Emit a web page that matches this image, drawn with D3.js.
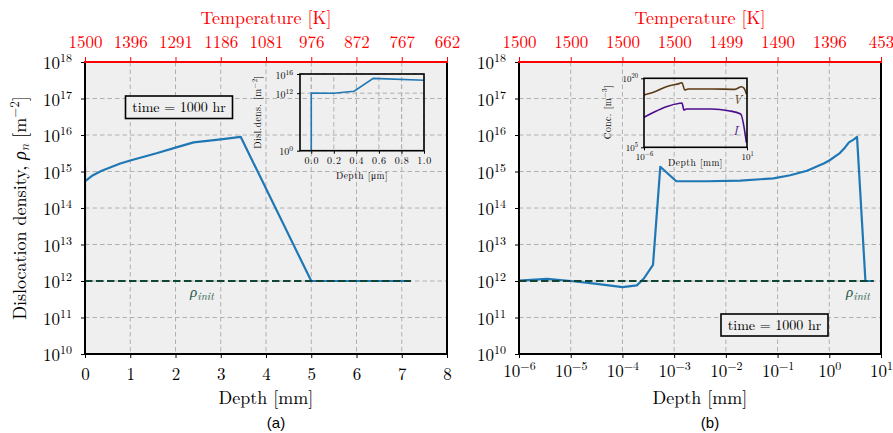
<!DOCTYPE html>
<html>
<head>
<meta charset="utf-8">
<script src="https://cdn.jsdelivr.net/npm/d3@7"></script>
<style>
body { margin: 0; background: #fff; }
svg { display: block; }
</style>
</head>
<body>
<script>
// fonts, closest thing to the LaTeX look we have
var serif = "'Latin Modern Roman','CMU Serif','Liberation Serif','Times New Roman',serif",
    sans = "'Liberation Sans',Arial,sans-serif";

// dislocation density profile (same run in both panels)
var depthMm = [1e-6, 3.5e-6, 1e-5, 3.2e-5, 1e-4, 1.9e-4, 2.6e-4, 3.9e-4, 5.4e-4, 1.1e-3,
               4.3e-3, 0.019, 0.083, 0.176, 0.37, 0.78, 1.0, 1.6, 2.0, 2.4, 3.0, 3.44, 5.0, 7.2];
var rhoDisl = [1.02e12, 1.15e12, 1.0e12, 8.3e11, 6.8e11, 7.6e11, 1.17e12, 2.75e12, 1.35e15, 5.4e14,
               5.4e14, 5.6e14, 6.5e14, 7.9e14, 1.05e15, 1.65e15, 2.0e15, 3.2e15, 4.5e15, 6.3e15, 7.6e15, 8.9e15, 1.0e12, 1.0e12];
var rhoInit = 1e12,
    initStartLin = 0, initStartLog = 1e-6, initEnd = 7.2;

// ticks
var linDepthTicks = [0, 1, 2, 3, 4, 5, 6, 7, 8];
var linTempLabels = ['1500', '1396', '1291', '1186', '1081', '976', '872', '767', '662'];
var logDepthTicks = [1e-6, 1e-5, 1e-4, 1e-3, 1e-2, 1e-1, 1e0, 1e1];
var logDepthExp = ['\u22126', '\u22125', '\u22124', '\u22123', '\u22122', '\u22121', '0', '1'];
var logTempLabels = ['1500', '1500', '1500', '1500', '1499', '1490', '1396', '453'];
var rhoTicks = [1e10, 1e11, 1e12, 1e13, 1e14, 1e15, 1e16, 1e17, 1e18];
var rhoExp = ['10', '11', '12', '13', '14', '15', '16', '17', '18'];

// inset (a): near-surface profile in micrometres
var insetDepthUm = [0, 0, 0.2, 0.38, 0.55, 1.0];
var insetRho = [1, 1.1e12, 0.95e12, 2.5e12, 1.25e15, 5e14];
var insetXTicks = [0, 0.2, 0.4, 0.6, 0.8, 1.0];
var insetYTicks = [1, 1e12, 1e16];
var insetYExp = ['0', '12', '16'];

// inset (b): vacancy / interstitial concentrations
var vDepthMm = [1e-6, 5.4e-6, 3.3e-5, 2.7e-4, 3.8e-4, 5.9e-4, 1e-3, 0.038, 1.5, 4.2, 6.3, 9.1];
var vConc = [2.3e16, 1.2e17, 1.5e18, 7.9e18, 1.1e19, 2.9e17, 4.7e17, 4.7e17, 4.0e17, 1.5e18, 6.8e17, 4.0e16];
var iDepthMm = [1e-6, 5.4e-6, 3.3e-5, 2.7e-4, 3.8e-4, 5.2e-4, 7.6e-4, 0.038, 0.55, 3.7, 9.1];
var iConc = [3.3e11, 5.5e12, 6.8e13, 3.7e14, 4.3e14, 1.26e13, 2.1e13, 2.1e13, 9.1e12, 1.7e12, 1e6];

var svg = d3.select('body').append('svg')
    .attr('width', 893)
    .attr('height', 433)
    .style('font-family', serif);

var yTop = 62, yBot = 354;
var y = d3.scaleLog().domain([1e10, 1e18]).range([yBot, yTop]);

// "10" with a raised exponent
function pow10(text, exp, size, supSize, rise) {
    text.text(null).attr('font-size', size);
    text.append('tspan').text('10');
    text.append('tspan').attr('dy', -rise).attr('font-size', supSize).text(exp);
}

function zip(a, b) {
    return a.map(function (v, i) { return [v, b[i]]; });
}

var blue = '#1f77b4', green = '#0f4436';

function panel(x, xTicks, tempLabels, isLog, clipId) {
    var x0 = x.range()[0], x1 = x.range()[1];
    var g = svg.append('g');

    g.append('rect')
        .attr('x', x0).attr('y', yTop)
        .attr('width', x1 - x0).attr('height', yBot - yTop)
        .attr('fill', '#efefef');

    // grid
    g.selectAll('.gx').data(xTicks).enter().append('line')
        .attr('x1', function (d) { return x(d); })
        .attr('x2', function (d) { return x(d); })
        .attr('y1', yTop).attr('y2', yBot)
        .attr('stroke', '#b0b0b0').attr('stroke-width', 1).attr('stroke-dasharray', '4.5,3');
    g.selectAll('.gy').data(rhoTicks).enter().append('line')
        .attr('x1', x0).attr('x2', x1)
        .attr('y1', function (d) { return y(d); })
        .attr('y2', function (d) { return y(d); })
        .attr('stroke', '#b0b0b0').attr('stroke-width', 1).attr('stroke-dasharray', '4.5,3');

    g.append('clipPath').attr('id', clipId)
        .append('rect').attr('x', x0).attr('y', yTop).attr('width', x1 - x0).attr('height', yBot - yTop);

    var line = d3.line()
        .x(function (d) { return x(d[0]); })
        .y(function (d) { return y(d[1]); });

    g.append('path')
        .datum(zip(depthMm, rhoDisl))
        .attr('clip-path', 'url(#' + clipId + ')')
        .attr('d', line)
        .attr('fill', 'none').attr('stroke', blue).attr('stroke-width', 2.2)
        .attr('stroke-linejoin', 'round');

    g.append('path')
        .datum([[isLog ? initStartLog : initStartLin, rhoInit], [initEnd, rhoInit]])
        .attr('d', line)
        .attr('fill', 'none').attr('stroke', green).attr('stroke-width', 2.2)
        .attr('stroke-dasharray', '7.5,3.5');

    // bottom axis
    var bx = g.append('g')
        .attr('transform', 'translate(0,' + yBot + ')')
        .call(d3.axisBottom(x).tickValues(xTicks).tickSizeOuter(0).tickSize(4)
            .tickPadding(isLog ? 7 : 10).tickFormat(function (d) { return d; }));
    bx.select('.domain').remove();
    bx.selectAll('.tick line').attr('stroke', '#000');
    bx.selectAll('.tick text')
        .attr('fill', '#000')
        .attr('font-family', serif)
        .attr('font-size', 17)
        .each(function (d, i) {
            if (isLog) pow10(d3.select(this), logDepthExp[i], 17, 12, 7);
        });

    // left axis
    var lx = g.append('g')
        .attr('transform', 'translate(' + x0 + ',0)')
        .call(d3.axisLeft(y).tickValues(rhoTicks).tickSizeOuter(0).tickSize(4).tickPadding(9));
    lx.select('.domain').remove();
    lx.selectAll('.tick line').attr('stroke', '#000');
    lx.selectAll('.tick text')
        .attr('fill', '#000')
        .attr('font-family', serif)
        .attr('dy', '0.4em')
        .each(function (d, i) { pow10(d3.select(this), rhoExp[i], 17, 12, 7); });

    // top temperature axis
    var tx = g.append('g')
        .attr('transform', 'translate(0,' + yTop + ')')
        .call(d3.axisTop(x).tickValues(xTicks).tickSizeOuter(0).tickSize(5).tickPadding(9)
            .tickFormat(function (d, i) { return tempLabels[i]; }));
    tx.select('.domain').remove();
    tx.selectAll('.tick line').attr('stroke', 'red');
    tx.selectAll('.tick text')
        .attr('fill', 'red')
        .attr('font-family', serif)
        .attr('font-size', 17);

    // spines
    g.append('line').attr('x1', x0).attr('x2', x0).attr('y1', yTop).attr('y2', yBot)
        .attr('stroke', '#000').attr('stroke-width', 2);
    g.append('line').attr('x1', x1).attr('x2', x1).attr('y1', yTop).attr('y2', yBot)
        .attr('stroke', '#000').attr('stroke-width', 2);
    g.append('line').attr('x1', x0 - 1).attr('x2', x1 + 1).attr('y1', yBot).attr('y2', yBot)
        .attr('stroke', '#000').attr('stroke-width', 2);
    g.append('line').attr('x1', x0 - 1).attr('x2', x1 + 1).attr('y1', yTop).attr('y2', yTop)
        .attr('stroke', 'red').attr('stroke-width', 2);

    var cx = (x0 + x1) / 2;
    g.append('text')
        .attr('x', cx).attr('y', 24)
        .attr('text-anchor', 'middle').attr('font-size', 18).attr('fill', 'red')
        .text('Temperature [K]');
    g.append('text')
        .attr('x', cx).attr('y', 404)
        .attr('text-anchor', 'middle').attr('font-size', 18)
        .text('Depth [mm]');
    g.append('text')
        .attr('x', cx + 10).attr('y', 428)
        .attr('text-anchor', 'middle').attr('font-size', 15).attr('font-family', sans)
        .text(isLog ? '(b)' : '(a)');

    return g;
}

function timeBox(g, bx, by, bw, bh) {
    g.append('rect')
        .attr('x', bx).attr('y', by).attr('width', bw).attr('height', bh)
        .attr('fill', '#efefef').attr('stroke', '#000').attr('stroke-width', 1.6);
    g.append('text')
        .attr('x', bx + bw / 2).attr('y', by + bh / 2 + 5)
        .attr('text-anchor', 'middle').attr('font-size', 14)
        .text('time = 1000 hr');
}

function initLabel(g, cx, by) {
    var t = g.append('text')
        .attr('x', cx).attr('y', by)
        .attr('text-anchor', 'middle').attr('fill', '#1d5a47')
        .attr('font-style', 'italic').attr('font-size', 15);
    t.append('tspan').text('\u03c1');
    t.append('tspan').attr('dy', 3).attr('font-size', 11).text('init');
}

// panel (a)
var xLin = d3.scaleLinear().domain([0, 8]).range([85, 447]);
var ga = panel(xLin, linDepthTicks, linTempLabels, false, 'clipA');
timeBox(ga, 125.5, 96, 107, 22.5);
initLabel(ga, 202, 297);

// panel (b)
var xLog = d3.scaleLog().domain([1e-6, 10]).range([519, 881]);
var gb = panel(xLog, logDepthTicks, logTempLabels, true, 'clipB');
timeBox(gb, 721, 314, 107, 22);
initLabel(gb, 858, 297);

// y label
var yl = svg.append('text')
    .attr('transform', 'translate(26,208) rotate(-90)')
    .attr('text-anchor', 'middle').attr('font-size', 18);
yl.append('tspan').text('Dislocation density, ');
yl.append('tspan').attr('font-style', 'italic').text('\u03c1');
yl.append('tspan').attr('font-style', 'italic').attr('font-size', 13).attr('dy', 3).text('n');
yl.append('tspan').attr('dy', -3).text(' [m');
yl.append('tspan').attr('font-size', 13).attr('dy', -7).text('\u22122');
yl.append('tspan').attr('dy', 7).text(']');

// ---- inset (a)
var xIn = d3.scaleLinear().domain([-0.1, 1.0]).range([300, 424]),
    yIn = d3.scaleLog().domain([1, 1e16]).range([150.7, 74]);
var gi = svg.append('g');
gi.selectAll('.gx').data(insetXTicks).enter().append('line')
    .attr('x1', function (d) { return xIn(d); })
    .attr('x2', function (d) { return xIn(d); })
    .attr('y1', 74).attr('y2', 150.7)
    .attr('stroke', '#b0b0b0').attr('stroke-dasharray', '4.5,3').attr('stroke-dashoffset', 12);
gi.selectAll('.gy').data(insetYTicks).enter().append('line')
    .attr('x1', 300).attr('x2', 424)
    .attr('y1', function (d) { return yIn(d); })
    .attr('y2', function (d) { return yIn(d); })
    .attr('stroke', '#b0b0b0').attr('stroke-dasharray', '4.5,3');
gi.append('path')
    .datum(zip(insetDepthUm, insetRho))
    .attr('d', d3.line().x(function (d) { return xIn(d[0]); }).y(function (d) { return yIn(d[1]); }))
    .attr('fill', 'none').attr('stroke', blue).attr('stroke-width', 1.6);
var ib = gi.append('g').attr('transform', 'translate(0,150.7)')
    .call(d3.axisBottom(xIn).tickValues(insetXTicks).tickSizeOuter(0).tickSize(3).tickPadding(3)
        .tickFormat(d3.format('.1f')));
ib.select('.domain').remove();
ib.selectAll('.tick line').attr('stroke', '#000');
ib.selectAll('.tick text').attr('fill', '#000').attr('font-family', serif)
    .attr('font-size', 10).attr('letter-spacing', 0.6);
var il = gi.append('g').attr('transform', 'translate(300,0)')
    .call(d3.axisLeft(yIn).tickValues(insetYTicks).tickSizeOuter(0).tickSize(3).tickPadding(4));
il.select('.domain').remove();
il.selectAll('.tick line').attr('stroke', '#000');
il.selectAll('.tick text').attr('fill', '#000').attr('font-family', serif).attr('dy', '0.4em')
    .each(function (d, i) { pow10(d3.select(this), insetYExp[i], 10, 7.5, 4); });
gi.append('rect').attr('x', 300).attr('y', 74).attr('width', 124).attr('height', 76.7)
    .attr('fill', 'none').attr('stroke', '#000').attr('stroke-width', 1.6);
gi.append('text').attr('x', 362).attr('y', 179)
    .attr('text-anchor', 'middle').attr('font-size', 9.5).attr('letter-spacing', 0.5)
    .text('Depth [\u03bcm]');
var il2 = gi.append('text').attr('transform', 'translate(261,112) rotate(-90)')
    .attr('text-anchor', 'middle').attr('font-size', 9.5).attr('letter-spacing', 0.5);
il2.append('tspan').text('Disl.dens. [m');
il2.append('tspan').attr('dy', -4).attr('font-size', 7).text('\u22122');
il2.append('tspan').attr('dy', 4).text(']');

// ---- inset (b)
var xC = d3.scaleLog().domain([1e-6, 10]).range([644, 747]),
    yC = d3.scaleLog().domain([1e5, 1e20]).range([147.3, 78.3]);
var gc = svg.append('g');
var cLine = d3.line().curve(d3.curveMonotoneX)
    .x(function (d) { return xC(d[0]); })
    .y(function (d) { return yC(d[1]); });
gc.append('path').datum(zip(vDepthMm, vConc)).attr('d', cLine)
    .attr('fill', 'none').attr('stroke', '#5c3b17').attr('stroke-width', 1.6);
gc.append('path').datum(zip(iDepthMm, iConc)).attr('d', cLine)
    .attr('fill', 'none').attr('stroke', '#4b0c8e').attr('stroke-width', 1.6);
var cb = gc.append('g').attr('transform', 'translate(0,147.3)')
    .call(d3.axisBottom(xC).tickValues([1e-6, 10]).tickSizeOuter(0).tickSize(3).tickPadding(3));
cb.select('.domain').remove();
cb.selectAll('.tick line').attr('stroke', '#000');
cb.selectAll('.tick text').attr('fill', '#000').attr('font-family', serif)
    .each(function (d, i) { pow10(d3.select(this), ['\u22126', '1'][i], 9, 6.5, 4); });
var cl = gc.append('g').attr('transform', 'translate(644,0)')
    .call(d3.axisLeft(yC).tickValues([1e5, 1e20]).tickSizeOuter(0).tickSize(3).tickPadding(3));
cl.select('.domain').remove();
cl.selectAll('.tick line').attr('stroke', '#000');
cl.selectAll('.tick text').attr('fill', '#000').attr('font-family', serif).attr('dy', '0.4em')
    .each(function (d, i) { pow10(d3.select(this), ['5', '20'][i], 9, 6.5, 4); });
gc.append('rect').attr('x', 644).attr('y', 78.3).attr('width', 103).attr('height', 69)
    .attr('fill', 'none').attr('stroke', '#000').attr('stroke-width', 1.6);
gc.append('text').attr('x', 695.5).attr('y', 166)
    .attr('text-anchor', 'middle').attr('font-size', 9.5).attr('letter-spacing', 0.5)
    .text('Depth [mm]');
var cl2 = gc.append('text').attr('transform', 'translate(611,112) rotate(-90)')
    .attr('text-anchor', 'middle').attr('font-size', 9.5).attr('letter-spacing', 0.5);
cl2.append('tspan').text('Conc. [m');
cl2.append('tspan').attr('dy', -4).attr('font-size', 7).text('\u22123');
cl2.append('tspan').attr('dy', 4).text(']');
gc.append('text').attr('x', 737.5).attr('y', 103.5)
    .attr('text-anchor', 'middle').attr('font-size', 12).attr('font-style', 'italic')
    .attr('fill', '#5c3b17').text('V');
gc.append('text').attr('x', 735.5).attr('y', 134.5)
    .attr('text-anchor', 'middle').attr('font-size', 12).attr('font-style', 'italic')
    .attr('fill', '#4b0c8e').text('I');
</script>
</body>
</html>
